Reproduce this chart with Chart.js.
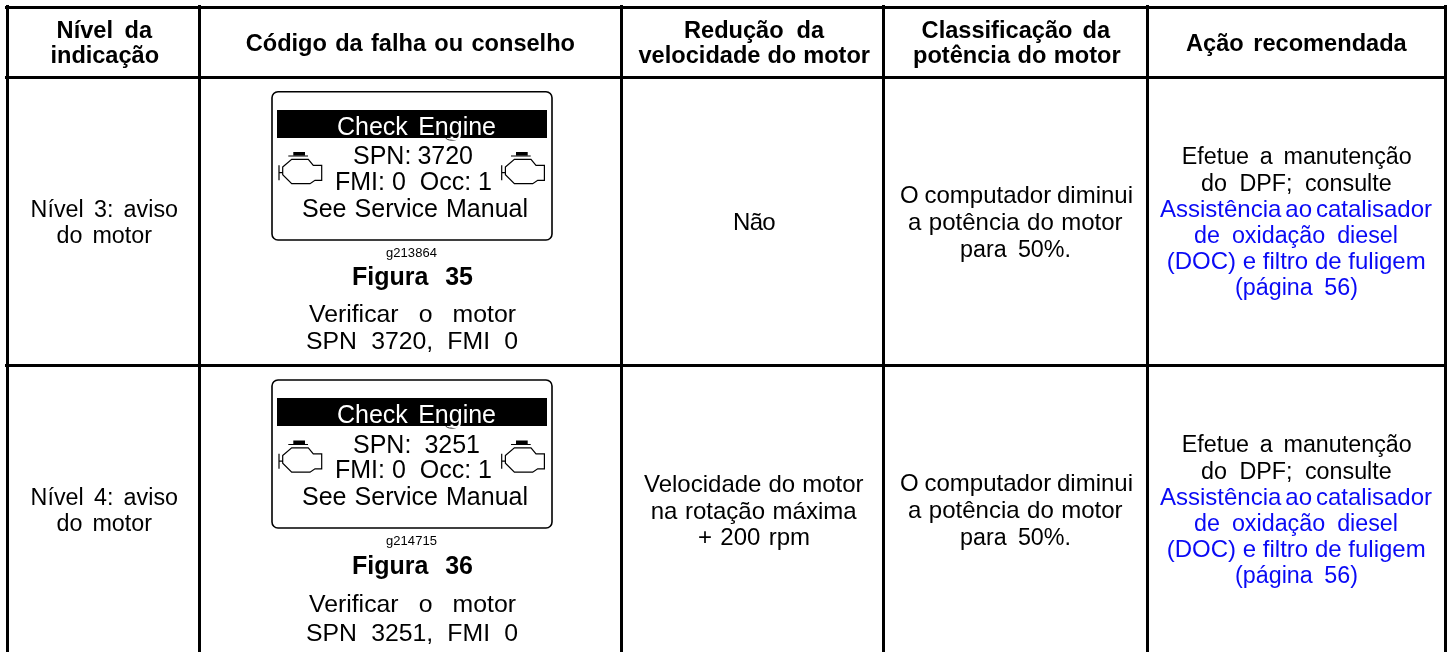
<!DOCTYPE html>
<html lang="pt">
<head>
<meta charset="utf-8">
<title>Níveis de indicação do motor</title>
<script src="https://cdn.jsdelivr.net/npm/chart.js@4"></script>
<style>html,body{margin:0;padding:0;background:#fff}canvas{display:block}</style>
</head>
<body>
<canvas id="c" width="1449" height="652"></canvas>
<script>
// ---------- content ----------
const headerLabels = [
  ["Nível da", "indicação"],
  ["Código da falha ou conselho"],
  ["Redução da", "velocidade do motor"],
  ["Classificação da", "potência do motor"],
  ["Ação recomendada"]
];
const levelLabels = [["Nível 3: aviso", "do motor"], ["Nível 4: aviso", "do motor"]];
const displayTitle = "Check Engine";
const spnLines = ["SPN: 3720", "SPN: 3251"];
const fmiLine = "FMI: 0  Occ: 1";
const manualLine = "See Service Manual";
const graphicIds = ["g213864", "g214715"];
const figureLabels = ["Figura 35", "Figura 36"];
const captionTop = "Verificar o motor";
const captionCodes = ["SPN 3720, FMI 0", "SPN 3251, FMI 0"];
const speedLabels = [["Não"], ["Velocidade do motor", "na rotação máxima", "+ 200 rpm"]];
const powerLabels = ["O computador diminui", "a potência do motor", "para 50%."];
const actionLabels = ["Efetue a manutenção", "do DPF; consulte"];
const linkLabels = ["Assistência ao catalisador", "de oxidação diesel", "(DOC) e filtro de fuligem", "(página 56)"];
// table rules, read in picture units
const columnRules = [7, 199, 621, 884, 1147, 1445];
const rowRules = [7, 77, 365];

// ---------- layout and style ----------
const BLACK = "#000", BLUE = "#0a0af5";
const REG = 24, NARROW = 23.3, BOLD = 23.6, LCD = 25, CAP = 24.8, FIG = 25;
// [text, left, right, baseline, size, bold, colour]
const L = [];
function put(t, a, b, y, size, bold, col) { L.push([t, a, b, y, size || REG, !!bold, col || BLACK]); }

put(headerLabels[0][0], 56.6, 152, 37.7, BOLD, 1);
put(headerLabels[0][1], 50.5, 159, 63.3, BOLD, 1);
put(headerLabels[1][0], 245.7, 575, 50.7, BOLD, 1);
put(headerLabels[2][0], 684, 824, 37.7, BOLD, 1);
put(headerLabels[2][1], 638.5, 870, 63.3, BOLD, 1);
put(headerLabels[3][0], 921.6, 1110, 37.7, BOLD, 1);
put(headerLabels[3][1], 913, 1120.6, 63.3, BOLD, 1);
put(headerLabels[4][0], 1186, 1406.7, 50.7, BOLD, 1);

const rowShift = [0, 288];
const lcdBase = [[135, 163.7, 190, 217], [423, 452.7, 478, 505]];
const captionBase = [[257, 285, 322, 349], [545, 574, 612, 640.7]];
[0, 1].forEach(r => {
  const d = rowShift[r];
  put(levelLabels[r][0], 30.6, 178, 217 + d, NARROW);
  put(levelLabels[r][1], 56.6, 152, 243 + d, NARROW);
  put(spnLines[r], 353, r ? 480 : 473, lcdBase[r][1], LCD);
  put(fmiLine, 335, 492, lcdBase[r][2], LCD);
  put(manualLine, 302, 528, lcdBase[r][3], LCD);
  put(graphicIds[r], 386, 437, captionBase[r][0], 13);
  put(figureLabels[r], 352, 473, captionBase[r][1], FIG, 1);
  put(captionTop, 309, 516, captionBase[r][2], CAP);
  put(captionCodes[r], 306, 518, captionBase[r][3], CAP);
  put(powerLabels[0], 900, 1133, 203.3 + d);
  put(powerLabels[1], 908, 1122.6, 230 + d);
  put(powerLabels[2], 960, 1071, 256.7 + d, NARROW);
  put(actionLabels[0], 1181.7, 1411.7, 164.3 + d, NARROW);
  put(actionLabels[1], 1201, 1391.7, 190.7 + d, NARROW);
  put(linkLabels[0], 1160, 1432, 216.7 + d, REG, 0, BLUE);
  put(linkLabels[1], 1194, 1398, 243.3 + d, NARROW, 0, BLUE);
  put(linkLabels[2], 1166.7, 1425.7, 269.3 + d, REG, 0, BLUE);
  put(linkLabels[3], 1235, 1358, 295 + d, NARROW, 0, BLUE);
});
put(speedLabels[0][0], 733, 775, 230);
put(speedLabels[1][0], 644, 863.5, 491.7);
put(speedLabels[1][1], 650.7, 856.6, 519);
put(speedLabels[1][2], 698, 810, 545);

function ff(size, bold) { return (bold ? "bold " : "") + size + 'px "Liberation Sans", Arial, sans-serif'; }
function fitted(ctx, t, a, b, y, size, bold, col) {
  ctx.save();
  ctx.font = ff(size, bold);
  ctx.fillStyle = col;
  ctx.textAlign = "left";
  ctx.textBaseline = "alphabetic";
  const nat = ctx.measureText(t).width;
  const spaces = (t.match(/ /g) || []).length;
  const want = b - a;
  if (spaces) ctx.wordSpacing = ((want - nat) / spaces) + "px";
  else ctx.letterSpacing = ((want - nat) / t.length) + "px";
  ctx.fillText(t, a, y);
  ctx.restore();
}
function engine(ctx, ox, oy) {
  // pen units are picture pixels from the icon's top-left corner
  ctx.save();
  ctx.translate(ox, oy);
  ctx.strokeStyle = "#000"; ctx.fillStyle = "#000"; ctx.lineWidth = 1.2;
  ctx.fillRect(15.3, 0, 11.7, 3.6);
  ctx.beginPath();
  ctx.moveTo(10.3, 4); ctx.lineTo(30, 4);
  ctx.moveTo(1, 13.3); ctx.lineTo(1, 28.3);
  ctx.moveTo(1, 20.7); ctx.lineTo(4.7, 20.7);
  ctx.moveTo(4.7, 15); ctx.lineTo(13.7, 7.3); ctx.lineTo(30.3, 7.3); ctx.lineTo(35.3, 13.3);
  ctx.lineTo(43.7, 13.3); ctx.lineTo(43.7, 28.3); ctx.lineTo(37, 28.3); ctx.lineTo(32, 31.7);
  ctx.lineTo(13.7, 31.7); ctx.lineTo(4.7, 22.7); ctx.closePath();
  ctx.stroke();
  ctx.restore();
}
const tablePlugin = {
  id: "tableText",
  afterDraw(chart) {
    const ctx = chart.ctx;
    [[91.8, 240, 110, 138, 152], [380, 528, 398, 426, 440.5]].forEach((b) => {
      ctx.save();
      ctx.strokeStyle = "#000"; ctx.lineWidth = 1.6;
      ctx.beginPath();
      ctx.roundRect(272, b[0], 280, b[1] - b[0], 6);
      ctx.stroke();
      ctx.fillStyle = "#000";
      ctx.fillRect(277, b[2], 270, b[3] - b[2]);
      // the display's "g" tail shows as a thin dark hook under the bar
      ctx.strokeStyle = "#333"; ctx.lineWidth = 1;
      ctx.beginPath();
      ctx.ellipse(452, b[3], 6, 2.2, 0, 0, Math.PI);
      ctx.stroke();
      ctx.restore();
      fitted(ctx, displayTitle, 337, 496, b[3] - 3, LCD, false, "#fff");
      engine(ctx, 278, b[4]);
      engine(ctx, 500.7, b[4]);
    });
    L.forEach(l => fitted(ctx, l[0], l[1], l[2], l[3], l[4], l[5], l[6]));
  }
};
new Chart(document.getElementById("c"), {
  type: "scatter",
  data: { datasets: [] },
  plugins: [tablePlugin],
  options: {
    responsive: false,
    animation: false,
    layout: { padding: { left: 5, right: 2, top: 5, bottom: 0 } },
    plugins: { legend: { display: false }, tooltip: { enabled: false }, title: { display: false } },
    scales: {
      x: {
        type: "linear", min: 5, max: 1447,
        afterBuildTicks(s) { s.ticks = columnRules.map(v => ({ value: v })); },
        grid: { color: "#000", lineWidth: 3, drawTicks: false },
        border: { display: false },
        ticks: { display: false }
      },
      y: {
        type: "linear", reverse: true, min: 5, max: 652,
        afterBuildTicks(s) { s.ticks = rowRules.map(v => ({ value: v })); },
        grid: { color: "#000", lineWidth: 3, drawTicks: false },
        border: { display: false },
        ticks: { display: false }
      }
    }
  }
});
</script>
</body>
</html>
